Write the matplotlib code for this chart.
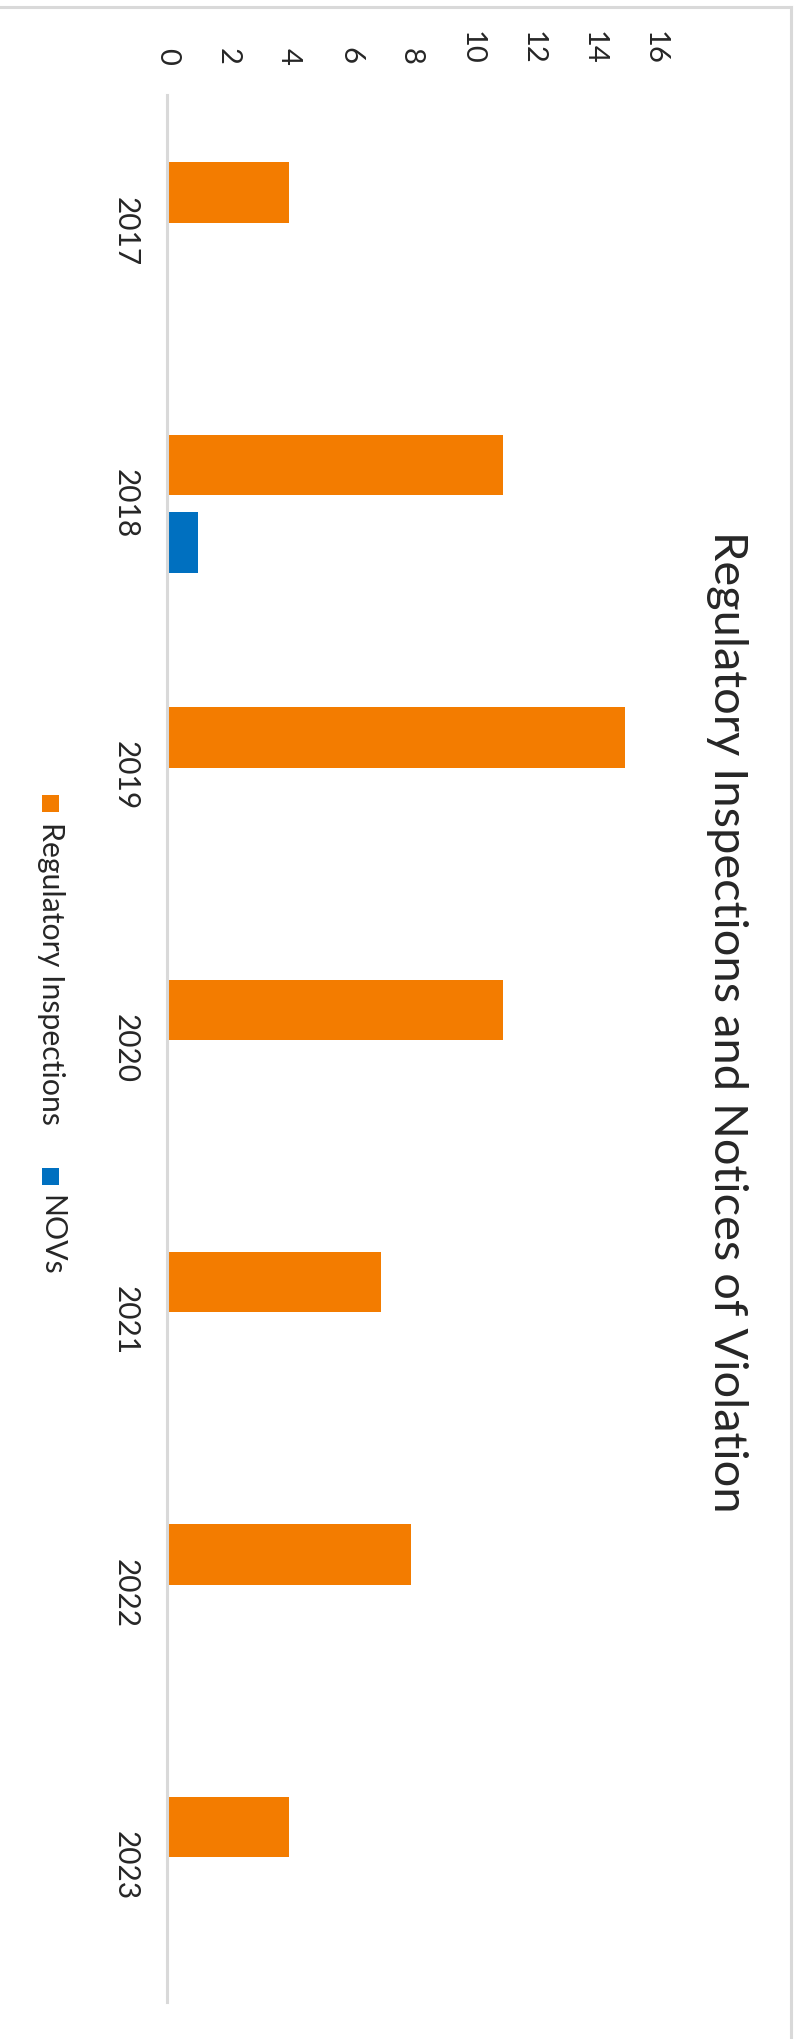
import matplotlib
matplotlib.use("Agg")
import matplotlib.pyplot as plt
import numpy as np
from matplotlib.patches import Rectangle
from matplotlib.lines import Line2D

# Data
years = ["2017", "2018", "2019", "2020", "2021", "2022", "2023"]
inspections = [4, 11, 15, 11, 7, 8, 4]
novs = [0, 1, 0, 0, 0, 0, 0]
value_ticks = [0, 2, 4, 6, 8, 10, 12, 14, 16]

series_names = ["Regulatory Inspections", "NOVs"]
series_colors = ["#F37C00", "#0070C0"]
title = "Regulatory Inspections and Notices of Violation"

plt.rcParams['font.family'] = ['Lato', 'DejaVu Sans']
text_color = "#262626"

W, H = 797, 2039
fig = plt.figure(figsize=(W / 100, H / 100), dpi=100)


def fx(px):
    return px / W


def fy(py):
    # pixel row measured from the top -> figure fraction
    return 1 - py / H


# plot area: value 0 at x=167, 16 at x=655; categories from y=95 to y=2002
ax = fig.add_axes([fx(167), fy(2002), fx(655 - 167), (2002 - 95) / H])

y = np.arange(len(years))
bar_h = 0.222
off = 0.142
ax.barh(y - off, inspections, height=bar_h, color=series_colors[0], linewidth=0)
ax.barh(y + off, novs, height=bar_h, color=series_colors[1], linewidth=0)

ax.set_xlim(0, 16)
ax.set_ylim(len(years) - 0.5, -0.5)

ax.xaxis.tick_top()
ax.set_xticks(value_ticks)
ax.set_xticklabels([str(v) for v in value_ticks], rotation=-90)
ax.set_yticks(y)
ax.set_yticklabels(years, rotation=-90, va="center")
ax.tick_params(axis="x", length=0, pad=22, labelsize=21, colors=text_color)
ax.tick_params(axis="y", length=0, pad=20, labelsize=21.5, colors=text_color)

for side in ["top", "right", "bottom"]:
    ax.spines[side].set_visible(False)
ax.spines["left"].set_color("#D9D9D9")
ax.spines["left"].set_linewidth(2.2)

# title, rotated like the rest of the chart
fig.text(fx(727), fy(1022), title, rotation=-90, ha="center", va="center",
         fontsize=33.8, color=text_color)

# legend built by hand so that it can be rotated
legend_items = [(series_names[0], series_colors[0], 795),
                (series_names[1], series_colors[1], 1168)]
for name, color, top in legend_items:
    fig.add_artist(Rectangle((fx(42), fy(top + 17)), fx(17), 17 / H,
                             transform=fig.transFigure, color=color, linewidth=0))
    fig.text(fx(51), fy(top + 27), name, rotation=-90, ha="center", va="top",
             fontsize=21.8, color=text_color)

# chart area border (only top and right edges are visible)
fig.add_artist(Line2D([0, fx(791)], [fy(6.5), fy(6.5)], transform=fig.transFigure,
                      color="#D9D9D9", linewidth=2.2))
fig.add_artist(Line2D([fx(791), fx(791)], [fy(6.5), 0], transform=fig.transFigure,
                      color="#D9D9D9", linewidth=2.2))

fig.savefig("out.png", dpi=100, facecolor="white")
